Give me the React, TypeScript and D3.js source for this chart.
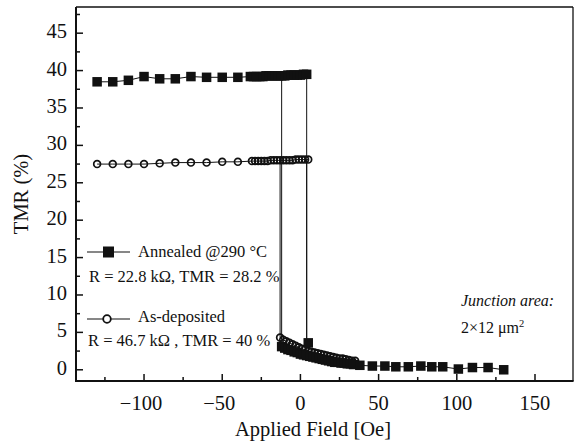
import React from 'react';
import * as d3 from 'd3';

const W = 577;
const H = 443;

// Annealed @290 °C (filled squares)
const annealedHighField = [-130, -120, -110, -100, -90, -80, -70, -60, -50, -40, -32, -30, -28, -26, -24, -22, -20, -18, -16, -14, -12, -10, -8, -6, -4, -2, 0, 2, 4];
const annealedHighTmr = [38.5, 38.5, 38.7, 39.2, 38.9, 38.9, 39.2, 39.1, 39.1, 39.1, 39.2, 39.2, 39.2, 39.2, 39.2, 39.3, 39.3, 39.3, 39.3, 39.3, 39.3, 39.3, 39.4, 39.4, 39.4, 39.4, 39.4, 39.5, 39.5];
const annealedLowField = [-12, -10, -8, -6, -4, -2, 0, 2, 4, 6, 8, 10, 12, 14, 16, 18, 20, 22, 24, 26, 28, 30, 32, 34, 38, 46, 54, 61, 69, 77, 84, 91, 101, 110, 120, 130];
const annealedLowTmr = [3.1, 2.9, 2.7, 2.6, 2.4, 2.3, 2.1, 2.0, 1.9, 1.8, 1.7, 1.6, 1.5, 1.4, 1.3, 1.2, 1.1, 1.0, 1.0, 0.9, 0.9, 0.8, 0.8, 0.7, 0.6, 0.5, 0.5, 0.4, 0.4, 0.5, 0.4, 0.4, 0.1, 0.3, 0.3, 0.0];
const annealedSwitchField = [-12, 4];
const annealedSwitchLow = [3.1, 3.6];
const annealedSwitchHigh = [39.3, 39.5];

// As-deposited (open circles)
const asDepHighField = [-130, -120, -110, -100, -90, -80, -70, -60, -50, -40, -31, -29, -27, -25, -23, -21, -19, -17, -15, -13, -11, -9, -7, -5, -3, -1, 1, 3, 5];
const asDepHighTmr = [27.5, 27.5, 27.5, 27.5, 27.6, 27.7, 27.7, 27.7, 27.8, 27.8, 27.9, 27.9, 27.9, 27.9, 27.9, 27.9, 28.0, 28.0, 28.0, 28.0, 28.0, 28.0, 28.0, 28.0, 28.1, 28.1, 28.1, 28.1, 28.1];
const asDepLowField = [-13, -11, -9, -7, -5, -3, -1, 1, 3, 5, 7, 9, 11, 13, 15, 17, 19, 21, 23, 25, 27, 29, 31, 33, 35];
const asDepLowTmr = [4.3, 4.0, 3.8, 3.6, 3.4, 3.2, 3.0, 2.8, 2.7, 2.5, 2.4, 2.3, 2.2, 2.1, 2.0, 1.9, 1.8, 1.7, 1.6, 1.5, 1.5, 1.4, 1.3, 1.2, 1.2];
const asDepSwitchField = [-13, 4];
const asDepSwitchLow = [4.3, 2.6];
const asDepSwitchHigh = [28.0, 28.1];

const fieldTicks = [-100, -50, 0, 50, 100, 150];
const fieldMinor = [-125, -75, -25, 25, 75, 125];
const tmrTicks = [0, 5, 10, 15, 20, 25, 30, 35, 40, 45];
const tmrMinor = [2.5, 7.5, 12.5, 17.5, 22.5, 27.5, 32.5, 37.5, 42.5, 47.5];

const font = '"Liberation Serif", "Times New Roman", serif';

export default function App() {
  const x = d3.scaleLinear().domain([-143.5, 174.3]).range([76, 573]);
  const y = d3.scaleLinear().domain([-1.5, 48.5]).range([381, 7]);

  const line = d3.line<[number, number]>().x(d => x(d[0])).y(d => y(d[1]));
  const zip = (a: number[], b: number[]) => a.map((v, i) => [v, b[i]] as [number, number]);

  const aHigh = zip(annealedHighField, annealedHighTmr);
  const aLow = zip(annealedLowField, annealedLowTmr);
  const dHigh = zip(asDepHighField, asDepHighTmr);
  const dLow = zip(asDepLowField, asDepLowTmr);

  const square = (p: [number, number], i: number | string, s = 9.5) => (
    <rect key={i} x={x(p[0]) - s / 2} y={y(p[1]) - s / 2} width={s} height={s} fill="#111" />
  );
  const circle = (p: [number, number], i: number | string) => (
    <circle key={i} cx={x(p[0])} cy={y(p[1])} r={3.4} fill="none" stroke="#111" strokeWidth={1.7} />
  );

  const x0 = x.range()[0], x1 = x.range()[1];
  const y0 = y.range()[0], y1 = y.range()[1];

  return (
    <svg width={W} height={H} style={{ position: 'absolute', left: 0, top: 0, background: '#fff' }} fontFamily={font}>
      <rect width={W} height={H} fill="#fff" />

      {/* frame */}
      <line x1={x0} x2={x1} y1={y1} y2={y1} stroke="#111" strokeWidth={1.3} />
      <line x1={x1} x2={x1} y1={y1} y2={y0} stroke="#111" strokeWidth={1.3} />
      <line x1={x0} x2={x1 + 0.6} y1={y0} y2={y0} stroke="#111" strokeWidth={2} />
      <line x1={x0} x2={x0} y1={y1} y2={y0 + 1} stroke="#111" strokeWidth={2} />

      {/* y ticks */}
      {tmrTicks.map(t => (
        <g key={'yt' + t}>
          <line x1={x0} x2={x0 + 7} y1={y(t)} y2={y(t)} stroke="#111" strokeWidth={1.5} />
          <text x={67} y={y(t) + 5} textAnchor="end" fontSize={20.5} fill="#111">{t}</text>
        </g>
      ))}
      {tmrMinor.map(t => (
        <line key={'ym' + t} x1={x0} x2={x0 + 4} y1={y(t)} y2={y(t)} stroke="#111" strokeWidth={1.5} />
      ))}

      {/* x ticks */}
      {fieldTicks.map(t => (
        <g key={'xt' + t}>
          <line x1={x(t)} x2={x(t)} y1={y0} y2={y0 - 7} stroke="#111" strokeWidth={1.5} />
          <text x={x(t) - (t < 0 ? 3 : 0)} y={410} textAnchor="middle" fontSize={20.5} fill="#111">
            {t < 0 ? '\u2212' + Math.abs(t) : t}
          </text>
        </g>
      ))}
      {fieldMinor.map(t => (
        <line key={'xm' + t} x1={x(t)} x2={x(t)} y1={y0} y2={y0 - 4} stroke="#111" strokeWidth={1.5} />
      ))}

      {/* axis titles */}
      <text x={313} y={436} textAnchor="middle" fontSize={20.5} fill="#111">Applied Field [Oe]</text>
      <text transform="translate(28,194) rotate(-90)" textAnchor="middle" fontSize={20.5} fill="#111">TMR (%)</text>

      {/* connecting lines */}
      <g fill="none" stroke="#111" strokeWidth={1}>
        <path d={line(dHigh) || ''} />
        <path d={line(dLow) || ''} />
        {asDepSwitchField.map((f, i) => (
          <path key={'ds' + i} d={line([[f, asDepSwitchHigh[i]], [f, asDepSwitchLow[i]]]) || ''} />
        ))}
        <path d={line(aHigh) || ''} />
        <path d={line(aLow) || ''} />
        {annealedSwitchField.map((f, i) => (
          <path key={'as' + i} d={line([[f, annealedSwitchHigh[i]], [f, annealedSwitchLow[i]]]) || ''} />
        ))}
      </g>

      {/* markers */}
      <g>
        {dHigh.map((p, i) => circle(p, 'dh' + i))}
        {dLow.map((p, i) => circle(p, 'dl' + i))}
        {aHigh.map((p, i) => square(p, 'ah' + i))}
        {aLow.map((p, i) => square(p, 'al' + i))}
        {square([annealedSwitchField[1] + 1, annealedSwitchLow[1]], 'asw')}
      </g>

      {/* legend */}
      <line x1={87} x2={130} y1={252} y2={252} stroke="#111" strokeWidth={1.2} />
      <rect x={103} y={246.5} width={11} height={11} fill="#111" />
      <text x={138} y={257} fontSize={16.5} fill="#111">Annealed @290 °C</text>
      <text x={89} y={282} fontSize={16.5} fill="#111">R = 22.8 kΩ, TMR = 28.2 %</text>

      <line x1={87} x2={130} y1={319} y2={319} stroke="#111" strokeWidth={1.2} />
      <circle cx={107} cy={319} r={3.8} fill="#fff" stroke="#111" strokeWidth={1.8} />
      <text x={138} y={322} fontSize={16.5} fill="#111">As-deposited</text>
      <text x={88} y={346} fontSize={16.5} fill="#111">R = 46.7 kΩ , TMR = 40 %</text>

      {/* annotation */}
      <text x={461} y={306} fontSize={16} fontStyle="italic" fill="#111">Junction area:</text>
      <text x={461} y={333} fontSize={16} fill="#111">
        2×12 μm<tspan dy={-6} fontSize={10.5}>2</tspan>
      </text>
    </svg>
  );
}
